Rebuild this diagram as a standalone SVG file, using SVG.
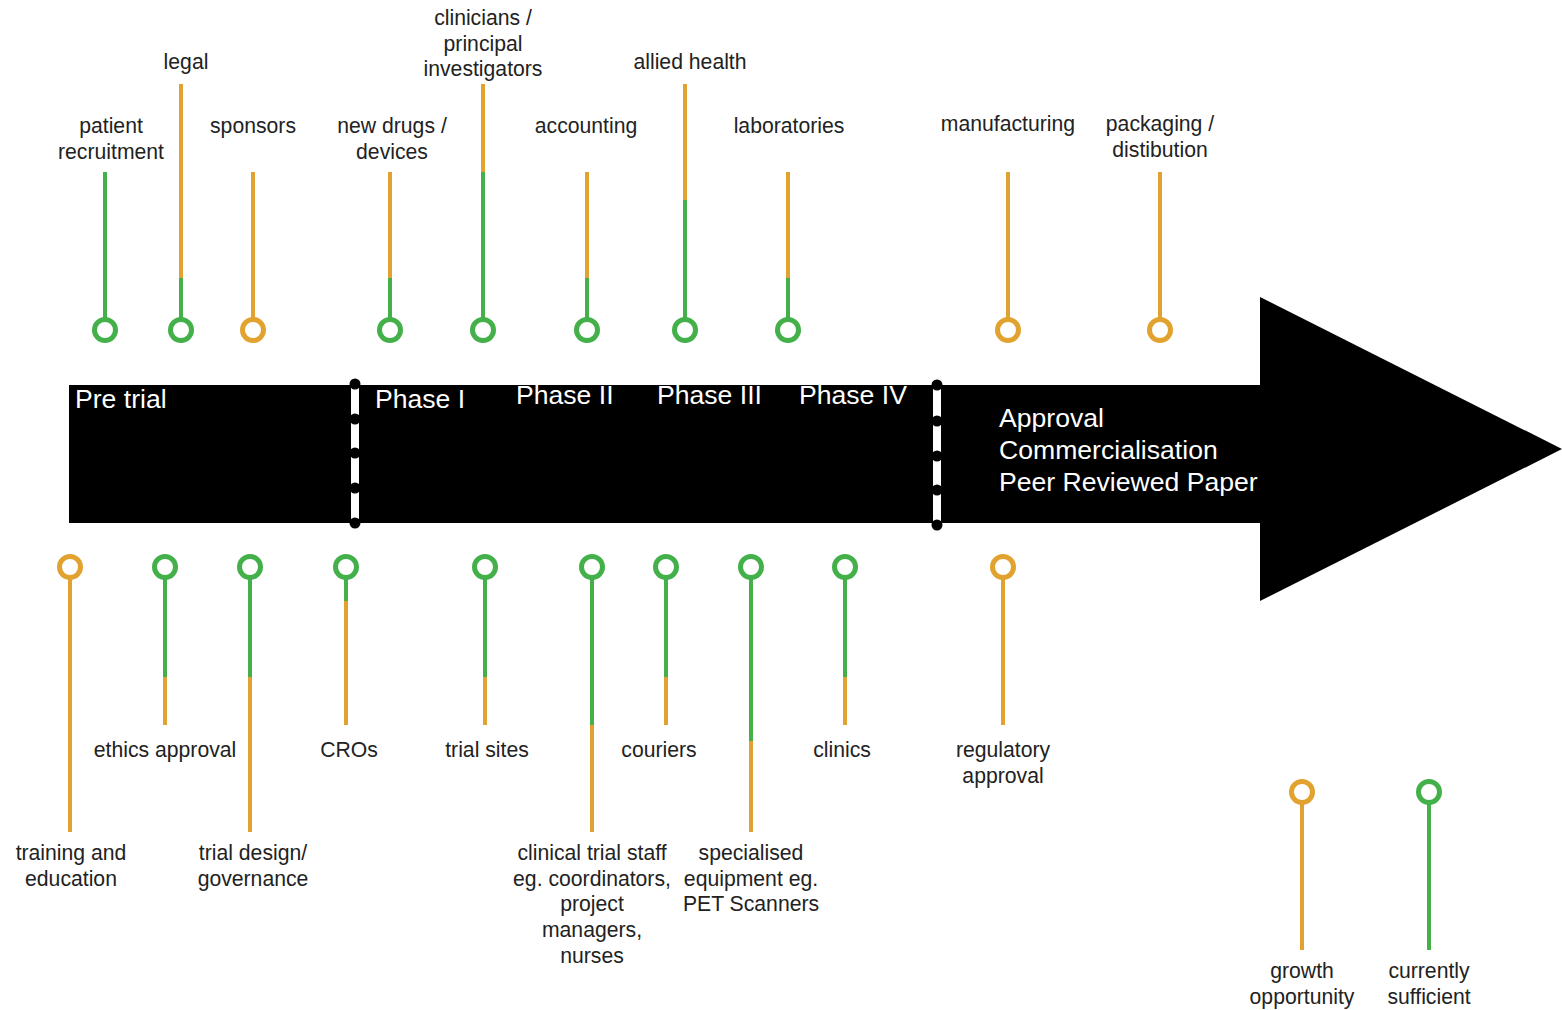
<svg xmlns="http://www.w3.org/2000/svg" width="1562" height="1010" viewBox="0 0 1562 1010">
<style>
.o{stroke:#E2A230}
.g{stroke:#43B04A}
.stem{stroke-width:4;fill:none}
.ring{fill:#fff;stroke-width:5}
.lbl{font-family:"Liberation Sans",Arial,sans-serif;font-size:21.2px;fill:#222;text-anchor:middle}
.ph{font-family:"Liberation Sans",Arial,sans-serif;font-size:26.6px;fill:#fff}
.dot{fill:#000}
.sep{fill:#fff}
</style>
<rect width="1562" height="1010" fill="#fff"/>
<g id="arrow">
<rect x="69" y="385" width="1192" height="138" fill="#000"/>
<polygon points="1260,297 1562,449 1260,601" fill="#000"/>
<rect class="sep" x="351" y="385" width="8" height="138"/>
<circle class="dot" cx="355" cy="384" r="5.5"/><circle class="dot" cx="355" cy="419" r="5.5"/><circle class="dot" cx="355" cy="453" r="5.5"/><circle class="dot" cx="355" cy="488" r="5.5"/><circle class="dot" cx="355" cy="523" r="5.5"/>
<rect class="sep" x="933" y="385" width="8" height="138"/>
<circle class="dot" cx="937" cy="385" r="5.5"/><circle class="dot" cx="937" cy="421" r="5.5"/><circle class="dot" cx="937" cy="456" r="5.5"/><circle class="dot" cx="937" cy="490" r="5.5"/><circle class="dot" cx="937" cy="525" r="5.5"/>
<text class="ph" x="75" y="408">Pre trial</text>
<text class="ph" x="375" y="408">Phase I</text>
<text class="ph" x="516" y="404">Phase II</text>
<text class="ph" x="657" y="404">Phase III</text>
<text class="ph" x="799" y="404">Phase IV</text>
<text class="ph" x="999" y="427">Approval</text>
<text class="ph" x="999" y="459">Commercialisation</text>
<text class="ph" x="999" y="491">Peer Reviewed Paper</text>
</g>
<g id="connectors"></g>
<!-- top pins -->
<g id="patient-recruitment">
<line class="stem g" x1="105" y1="172" x2="105" y2="320"/>
<circle class="ring g" cx="105" cy="330" r="10.5"/>
<text class="lbl" x="111" y="133">patient</text><text class="lbl" x="111" y="159">recruitment</text>
</g>
<g id="legal">
<line class="stem o" x1="181" y1="84" x2="181" y2="278"/>
<line class="stem g" x1="181" y1="278" x2="181" y2="320"/>
<circle class="ring g" cx="181" cy="330" r="10.5"/>
<text class="lbl" x="186" y="69">legal</text>
</g>
<g id="sponsors">
<line class="stem o" x1="253" y1="172" x2="253" y2="320"/>
<circle class="ring o" cx="253" cy="330" r="10.5"/>
<text class="lbl" x="253" y="133">sponsors</text>
</g>
<g id="new-drugs">
<line class="stem o" x1="390" y1="172" x2="390" y2="278"/>
<line class="stem g" x1="390" y1="278" x2="390" y2="320"/>
<circle class="ring g" cx="390" cy="330" r="10.5"/>
<text class="lbl" x="392" y="133">new drugs /</text><text class="lbl" x="392" y="159">devices</text>
</g>
<g id="clinicians">
<line class="stem o" x1="483" y1="84" x2="483" y2="172"/>
<line class="stem g" x1="483" y1="172" x2="483" y2="320"/>
<circle class="ring g" cx="483" cy="330" r="10.5"/>
<text class="lbl" x="483" y="25">clinicians /</text><text class="lbl" x="483" y="51">principal</text><text class="lbl" x="483" y="76">investigators</text>
</g>
<g id="accounting">
<line class="stem o" x1="587" y1="172" x2="587" y2="278"/>
<line class="stem g" x1="587" y1="278" x2="587" y2="320"/>
<circle class="ring g" cx="587" cy="330" r="10.5"/>
<text class="lbl" x="586" y="133">accounting</text>
</g>
<g id="allied-health">
<line class="stem o" x1="685" y1="84" x2="685" y2="200"/>
<line class="stem g" x1="685" y1="200" x2="685" y2="320"/>
<circle class="ring g" cx="685" cy="330" r="10.5"/>
<text class="lbl" x="690" y="69">allied health</text>
</g>
<g id="laboratories">
<line class="stem o" x1="788" y1="172" x2="788" y2="278"/>
<line class="stem g" x1="788" y1="278" x2="788" y2="320"/>
<circle class="ring g" cx="788" cy="330" r="10.5"/>
<text class="lbl" x="789" y="133">laboratories</text>
</g>
<g id="manufacturing">
<line class="stem o" x1="1008" y1="172" x2="1008" y2="320"/>
<circle class="ring o" cx="1008" cy="330" r="10.5"/>
<text class="lbl" x="1008" y="131">manufacturing</text>
</g>
<g id="packaging">
<line class="stem o" x1="1160" y1="172" x2="1160" y2="320"/>
<circle class="ring o" cx="1160" cy="330" r="10.5"/>
<text class="lbl" x="1160" y="131">packaging /</text><text class="lbl" x="1160" y="157">distibution</text>
</g>
<!-- bottom pins -->
<g id="training">
<line class="stem o" x1="70" y1="577" x2="70" y2="832"/>
<circle class="ring o" cx="70" cy="567" r="10.5"/>
<text class="lbl" x="71" y="860">training and</text><text class="lbl" x="71" y="886">education</text>
</g>
<g id="ethics">
<line class="stem g" x1="165" y1="577" x2="165" y2="677"/>
<line class="stem o" x1="165" y1="677" x2="165" y2="725"/>
<circle class="ring g" cx="165" cy="567" r="10.5"/>
<text class="lbl" x="165" y="757">ethics approval</text>
</g>
<g id="trial-design">
<line class="stem g" x1="250" y1="577" x2="250" y2="677"/>
<line class="stem o" x1="250" y1="677" x2="250" y2="832"/>
<circle class="ring g" cx="250" cy="567" r="10.5"/>
<text class="lbl" x="253" y="860">trial design/</text><text class="lbl" x="253" y="886">governance</text>
</g>
<g id="cros">
<line class="stem g" x1="346" y1="577" x2="346" y2="601"/>
<line class="stem o" x1="346" y1="601" x2="346" y2="725"/>
<circle class="ring g" cx="346" cy="567" r="10.5"/>
<text class="lbl" x="349" y="757">CROs</text>
</g>
<g id="trial-sites">
<line class="stem g" x1="485" y1="577" x2="485" y2="677"/>
<line class="stem o" x1="485" y1="677" x2="485" y2="725"/>
<circle class="ring g" cx="485" cy="567" r="10.5"/>
<text class="lbl" x="487" y="757">trial sites</text>
</g>
<g id="clinical-staff">
<line class="stem g" x1="592" y1="577" x2="592" y2="725"/>
<line class="stem o" x1="592" y1="725" x2="592" y2="832"/>
<circle class="ring g" cx="592" cy="567" r="10.5"/>
<text class="lbl" x="592" y="860">clinical trial staff</text><text class="lbl" x="592" y="886">eg. coordinators,</text><text class="lbl" x="592" y="911">project</text><text class="lbl" x="592" y="937">managers,</text><text class="lbl" x="592" y="963">nurses</text>
</g>
<g id="couriers">
<line class="stem g" x1="666" y1="577" x2="666" y2="677"/>
<line class="stem o" x1="666" y1="677" x2="666" y2="725"/>
<circle class="ring g" cx="666" cy="567" r="10.5"/>
<text class="lbl" x="659" y="757">couriers</text>
</g>
<g id="specialised">
<line class="stem g" x1="751" y1="577" x2="751" y2="741"/>
<line class="stem o" x1="751" y1="741" x2="751" y2="832"/>
<circle class="ring g" cx="751" cy="567" r="10.5"/>
<text class="lbl" x="751" y="860">specialised</text><text class="lbl" x="751" y="886">equipment eg.</text><text class="lbl" x="751" y="911">PET Scanners</text>
</g>
<g id="clinics">
<line class="stem g" x1="845" y1="577" x2="845" y2="677"/>
<line class="stem o" x1="845" y1="677" x2="845" y2="725"/>
<circle class="ring g" cx="845" cy="567" r="10.5"/>
<text class="lbl" x="842" y="757">clinics</text>
</g>
<g id="regulatory">
<line class="stem o" x1="1003" y1="577" x2="1003" y2="725"/>
<circle class="ring o" cx="1003" cy="567" r="10.5"/>
<text class="lbl" x="1003" y="757">regulatory</text><text class="lbl" x="1003" y="783">approval</text>
</g>
<!-- legend -->
<g id="legend-growth">
<line class="stem o" x1="1302" y1="802" x2="1302" y2="950"/>
<circle class="ring o" cx="1302" cy="792" r="10.5"/>
<text class="lbl" x="1302" y="978">growth</text><text class="lbl" x="1302" y="1004">opportunity</text>
</g>
<g id="legend-sufficient">
<line class="stem g" x1="1429" y1="802" x2="1429" y2="950"/>
<circle class="ring g" cx="1429" cy="792" r="10.5"/>
<text class="lbl" x="1429" y="978">currently</text><text class="lbl" x="1429" y="1004">sufficient</text>
</g>
</svg>
